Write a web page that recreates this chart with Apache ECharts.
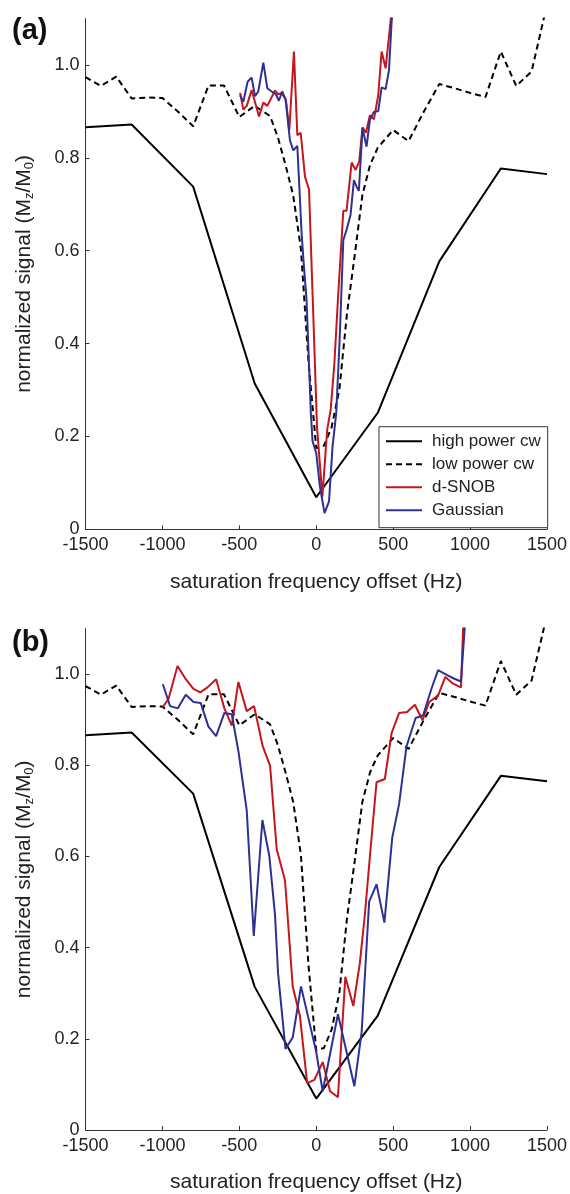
<!DOCTYPE html>
<html>
<head>
<meta charset="utf-8">
<script src="https://cdn.jsdelivr.net/npm/echarts@6/dist/echarts.min.js"></script>
<style>
  html, body { margin: 0; padding: 0; background: #fff; }
  #chart { width: 570px; height: 1194px; }
</style>
</head>
<body>
<div id="chart"></div>
<script>
// high power cw (same in both panels)
var hiX = [-1500, -1200, -800, -400, 0, 400, 800, 1200, 1500];
var hiY = [0.866, 0.872, 0.738, 0.314, 0.069, 0.251, 0.577, 0.777, 0.765];

// low power cw (same in both panels)
var lowX = [-1500, -1400, -1300, -1200, -1100, -1000, -900, -800, -700, -600, -500, -400, -300, -250, -200, -150, -100, -50, 0, 50, 100, 150, 200, 250, 300, 350, 400, 500, 600, 700, 800, 900, 1000, 1100, 1200, 1300, 1400, 1500];
var lowY = [0.974, 0.955, 0.975, 0.928, 0.930, 0.929, 0.900, 0.868, 0.956, 0.956, 0.888, 0.912, 0.890, 0.845, 0.785, 0.720, 0.605, 0.360, 0.175, 0.180, 0.220, 0.300, 0.465, 0.590, 0.720, 0.785, 0.822, 0.860, 0.836, 0.900, 0.959, 0.950, 0.940, 0.931, 1.029, 0.955, 0.986, 1.130];

// panel (a)
var snobAX = [-495, -474, -452, -420, -372, -344, -318, -268, -247, -225, -197, -175, -145, -123, -101, -73, -47, -20, 5, 40, 71, 94, 118, 141, 176, 197, 230, 256, 279, 301, 323, 349, 375, 403, 425, 451, 483, 500];
var snobAY = [0.940, 0.904, 0.912, 0.946, 0.889, 0.919, 0.912, 0.945, 0.937, 0.940, 0.925, 0.860, 1.029, 0.849, 0.854, 0.759, 0.732, 0.470, 0.220, 0.070, 0.214, 0.258, 0.358, 0.495, 0.686, 0.686, 0.790, 0.774, 0.792, 0.866, 0.854, 0.892, 0.883, 0.935, 1.029, 0.993, 1.093, 1.150];
var gaussAX = [-495, -474, -446, -420, -398, -377, -344, -318, -290, -262, -243, -221, -199, -171, -149, -123, -95, -80, -63, -35, -24, 0, 24, 54, 83, 106, 130, 153, 176, 197, 223, 245, 262, 277, 301, 327, 349, 375, 403, 425, 451, 473, 490, 505];
var gaussAY = [0.935, 0.921, 0.964, 0.973, 0.933, 0.943, 1.005, 0.950, 0.943, 0.937, 0.923, 0.943, 0.925, 0.838, 0.816, 0.826, 0.637, 0.566, 0.494, 0.250, 0.190, 0.164, 0.092, 0.035, 0.060, 0.178, 0.250, 0.416, 0.623, 0.645, 0.677, 0.752, 0.738, 0.729, 0.864, 0.824, 0.882, 0.899, 0.901, 0.952, 0.948, 0.989, 1.093, 1.150];

// panel (b)
var snobBX = [-997, -960, -902, -852, -798, -754, -707, -651, -597, -549, -506, -452, -404, -348, -300, -257, -203, -153, -106, -59, -12, 42, 90, 141, 189, 241, 283, 316, 353, 392, 446, 490, 539, 591, 641, 691, 734, 792, 839, 886, 941, 960];
var snobBY = [0.928, 0.946, 1.018, 0.991, 0.968, 0.960, 0.971, 0.989, 0.925, 0.887, 0.983, 0.919, 0.930, 0.842, 0.799, 0.616, 0.548, 0.315, 0.250, 0.103, 0.110, 0.149, 0.085, 0.072, 0.336, 0.272, 0.365, 0.472, 0.616, 0.763, 0.770, 0.871, 0.915, 0.917, 0.933, 0.899, 0.939, 0.953, 0.994, 0.980, 0.971, 1.150];
var gaussBX = [-997, -950, -900, -848, -798, -751, -701, -651, -597, -549, -506, -452, -406, -350, -305, -268, -248, -200, -153, -99, -47, 0, 42, 141, 248, 295, 344, 392, 443, 494, 539, 587, 646, 695, 749, 792, 851, 898, 941, 969];
var gaussBY = [0.978, 0.930, 0.925, 0.955, 0.939, 0.937, 0.885, 0.864, 0.915, 0.912, 0.831, 0.702, 0.426, 0.680, 0.601, 0.472, 0.343, 0.178, 0.203, 0.315, 0.240, 0.171, 0.085, 0.254, 0.096, 0.214, 0.501, 0.539, 0.455, 0.641, 0.716, 0.842, 0.904, 0.910, 0.968, 1.009, 0.998, 0.990, 0.984, 1.120];

var yTicks = [0, 0.2, 0.4, 0.6, 0.8, 1.0];
var legendNames = ['high power cw', 'low power cw', 'd-SNOB', 'Gaussian'];

var FONT = '"Liberation Sans", Arial, sans-serif';
var AXIS_COLOR = '#333';
var TEXT_COLOR = '#222';

function pairs(xs, ys) {
    return xs.map(function (x, i) { return [x, ys[i]]; });
}

function xAxisFor(idx) {
    return {
        type: 'value',
        gridIndex: idx,
        min: -1500,
        max: 1500,
        interval: 500,
        name: 'saturation frequency offset (Hz)',
        nameLocation: 'middle',
        nameGap: 42,
        nameTextStyle: { fontFamily: FONT, fontSize: 21, color: TEXT_COLOR },
        axisLine: { onZero: false, lineStyle: { color: AXIS_COLOR, width: 1 } },
        axisTick: { inside: true, length: 4, lineStyle: { color: AXIS_COLOR } },
        axisLabel: {
            fontFamily: FONT, fontSize: 18, color: TEXT_COLOR, margin: 7,
            formatter: function (v) { return String(v); }
        },
        splitLine: { show: false }
    };
}

function yAxisFor(idx) {
    return {
        type: 'value',
        gridIndex: idx,
        min: 0,
        max: 1.1,
        name: '{a|normalized signal (M}{s|z}{a|/M}{s|0}{a|)}',
        nameLocation: 'middle',
        nameGap: 50,
        nameTextStyle: {
            rich: {
                a: { fontFamily: FONT, fontSize: 21, color: TEXT_COLOR },
                s: { fontFamily: FONT, fontSize: 13, color: TEXT_COLOR, padding: [10, 0, 0, 0] }
            }
        },
        axisLine: { show: true, onZero: false, lineStyle: { color: AXIS_COLOR, width: 1 } },
        axisTick: { inside: true, length: 4, customValues: yTicks, lineStyle: { color: AXIS_COLOR } },
        axisLabel: {
            fontFamily: FONT, fontSize: 18, color: TEXT_COLOR, margin: 6,
            customValues: yTicks,
            formatter: function (v) { return v === 0 ? '0' : v.toFixed(1); }
        },
        splitLine: { show: false }
    };
}

function seriesFor(idx, snobData, gaussData) {
    return [
        { name: 'high power cw', type: 'line', xAxisIndex: idx, yAxisIndex: idx, symbol: 'none',
          lineStyle: { color: '#000', width: 2 }, itemStyle: { color: '#000' },
          data: pairs(hiX, hiY) },
        { name: 'low power cw', type: 'line', xAxisIndex: idx, yAxisIndex: idx, symbol: 'none',
          lineStyle: { color: '#000', width: 2, type: [6, 4] }, itemStyle: { color: '#000' },
          data: pairs(lowX, lowY) },
        { name: 'd-SNOB', type: 'line', xAxisIndex: idx, yAxisIndex: idx, symbol: 'none',
          lineStyle: { color: '#c4161c', width: 2 }, itemStyle: { color: '#c4161c' },
          data: snobData },
        { name: 'Gaussian', type: 'line', xAxisIndex: idx, yAxisIndex: idx, symbol: 'none',
          lineStyle: { color: '#2e3192', width: 2 }, itemStyle: { color: '#2e3192' },
          data: gaussData }
    ];
}

var chart = echarts.init(document.getElementById('chart'), null, { renderer: 'canvas' });

var option = {
    animation: false,
    backgroundColor: '#fff',
    grid: [
        { left: 85.5, right: 22.7, top: 18.6, height: 510.7 },
        { left: 85.5, right: 22.7, top: 628.6, height: 510.7 }
    ],
    xAxis: [xAxisFor(0), xAxisFor(1)],
    yAxis: [yAxisFor(0), yAxisFor(1)],
    legend: {
        data: legendNames,
        orient: 'vertical',
        left: 379,
        top: 426.7,
        padding: [6, 7, 9, 6],
        itemWidth: 36,
        itemHeight: 14,
        itemGap: 6,
        borderColor: '#333',
        borderWidth: 1,
        borderRadius: 0,
        backgroundColor: '#fff',
        selectedMode: false,
        itemStyle: { opacity: 0 },
        textStyle: { fontFamily: FONT, fontSize: 17, color: TEXT_COLOR, padding: [0, 0, 0, 5] }
    },
    graphic: [
        { type: 'text', left: 12, top: 16, style: { text: '(a)', font: 'bold 29px ' + FONT, fill: '#111' } },
        { type: 'text', left: 12, top: 628, style: { text: '(b)', font: 'bold 29px ' + FONT, fill: '#111' } }
    ],
    series: seriesFor(0, pairs(snobAX, snobAY), pairs(gaussAX, gaussAY))
        .concat(seriesFor(1, pairs(snobBX, snobBY), pairs(gaussBX, gaussBY)))
};

chart.setOption(option);
</script>
</body>
</html>
